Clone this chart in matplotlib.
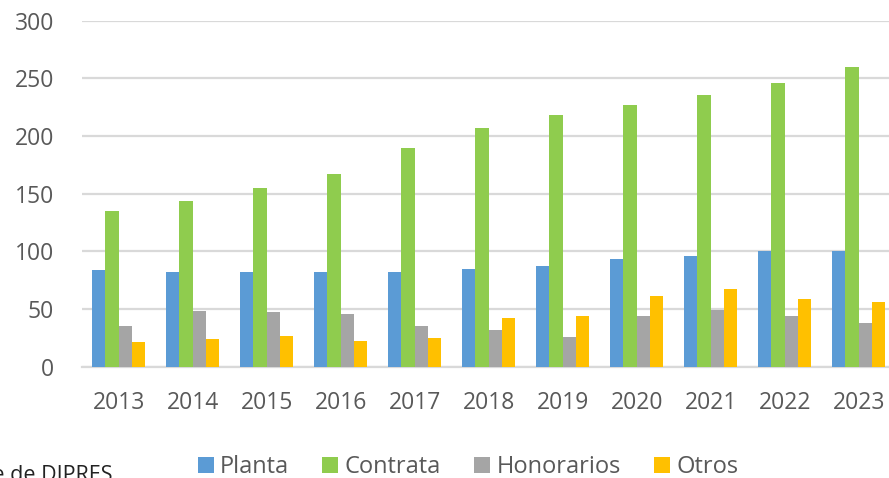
import numpy as np
from matplotlib import pyplot as plt
from matplotlib.patches import Patch

years = ['2013', '2014', '2015', '2016', '2017', '2018', '2019', '2020', '2021', '2022', '2023']
planta = [84, 82, 82, 82, 82, 85, 87, 93, 96, 100, 100]
contrata = [135, 144, 155, 167, 190, 207, 218, 227, 236, 246, 260]
honorarios = [35, 48, 47, 46, 35, 32, 26, 44, 49, 44, 38]
otros = [21, 24, 27, 22, 25, 42, 44, 61, 67, 59, 56]

series = [('Planta', planta, '#5B9BD5'),
          ('Contrata', contrata, '#8FCC4E'),
          ('Honorarios', honorarios, '#A5A5A5'),
          ('Otros', otros, '#FFC000')]

plt.rcParams['font.family'] = ['Open Sans', 'DejaVu Sans']
text_color = '#595959'

fig = plt.figure(figsize=(8.89, 4.78), dpi=100)
W, H = 889, 478
left, right, top, bottom = 81.7, 81.7 + 11 * 74, 20.7, 366.7
ax = fig.add_axes([left / W, 1 - bottom / H, (right - left) / W, (bottom - top) / H])

x = np.arange(len(years))
bar_w = 0.18
for i, (name, vals, color) in enumerate(series):
    ax.bar(x + (i - 1.5) * bar_w, vals, width=bar_w, color=color, label=name, zorder=3)

ax.set_xlim(-0.5, len(years) - 0.5)
ax.set_ylim(0, 300)
ax.set_yticks(range(0, 301, 50))
ax.set_xticks(x)
ax.set_xticklabels(years)
ax.grid(True, axis='y', color='#D9D9D9', linewidth=1.6, zorder=0)
ax.set_axisbelow(True)
for side in ['top', 'right', 'left']:
    ax.spines[side].set_visible(False)
ax.spines['bottom'].set_color('#D9D9D9')
ax.spines['bottom'].set_linewidth(1.6)
ax.tick_params(axis='both', length=0, labelsize=16.5, labelcolor=text_color)
ax.tick_params(axis='y', pad=20)
ax.tick_params(axis='x', pad=17.5)

handles = [Patch(facecolor=c, edgecolor='none', label=n) for n, _, c in series]
fig.legend(handles=handles, loc='center', ncol=4, frameon=False,
           bbox_to_anchor=(468 / W, 1 - 467 / H), fontsize=17,
           handlelength=0.68, handleheight=0.68, handletextpad=0.27,
           columnspacing=1.4, labelcolor=text_color, borderaxespad=0)

fig.text(112 / W, 1 - 465 / H, 'Fuente: Elaboración propia con base de DIPRES',
         ha='right', va='top', fontsize=15.5, color='#222222')

plt.savefig('out.png', dpi=100)
plt.close()
